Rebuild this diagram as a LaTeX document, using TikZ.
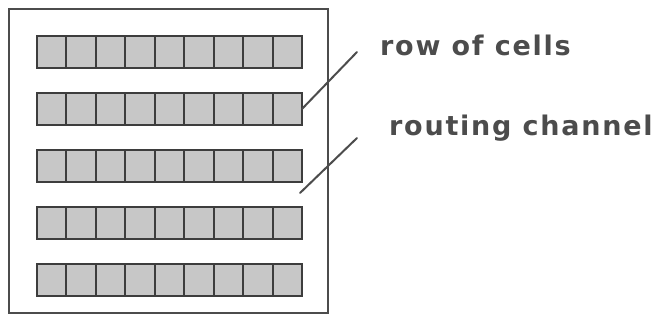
\documentclass[tikz,border=0pt]{standalone}
\usepackage{fontspec}
\newfontfamily\labelfont[LetterSpace=6.5]{DejaVu Sans Bold}
\definecolor{ink}{gray}{0.30}
\definecolor{cellfill}{gray}{0.78}
\tikzset{
  frame/.style={draw=ink, line width=1.5pt},
  cell/.style={draw=ink!80!black, line width=2pt, fill=cellfill,
    minimum width=29.44pt, minimum height=32pt, inner sep=0pt, outer sep=0pt},
  leader/.style={draw=ink, line width=2pt, line cap=round},
  lbl/.style={font=\labelfont\fontsize{27}{31}\selectfont, text=ink, inner sep=0pt, anchor=base west}
}
\begin{document}
\begin{tikzpicture}[x=1pt, y=-1pt]
  \useasboundingbox (0,0) rectangle (654,322);
  % chip outline
  \node[frame, minimum width=319pt, minimum height=304pt, inner sep=0pt, anchor=north west] (chip) at (8,8) {};
  % five rows of nine cells each
  \foreach \r in {1,...,5} {
    \foreach \c in {1,...,9} {
      \node[cell, anchor=north west] (r\r c\c) at ({37+(\c-1)*29.44}, {36+(\r-1)*57}) {};
    }
  }
  % labels
  \node[lbl] (rowlbl) at (380,55) {row of cells};
  \node[lbl] (chanlbl) at (389,135) {routing channel};
  % leader lines
  \coordinate (rowend) at (357,52);
  \coordinate (chanend) at (357,138);
  \coordinate (chanstart) at (300,193);
  \draw[leader] (r2c9.east) -- (rowend);
  \draw[leader] (chanstart) -- (chanend);
\end{tikzpicture}
\end{document}
